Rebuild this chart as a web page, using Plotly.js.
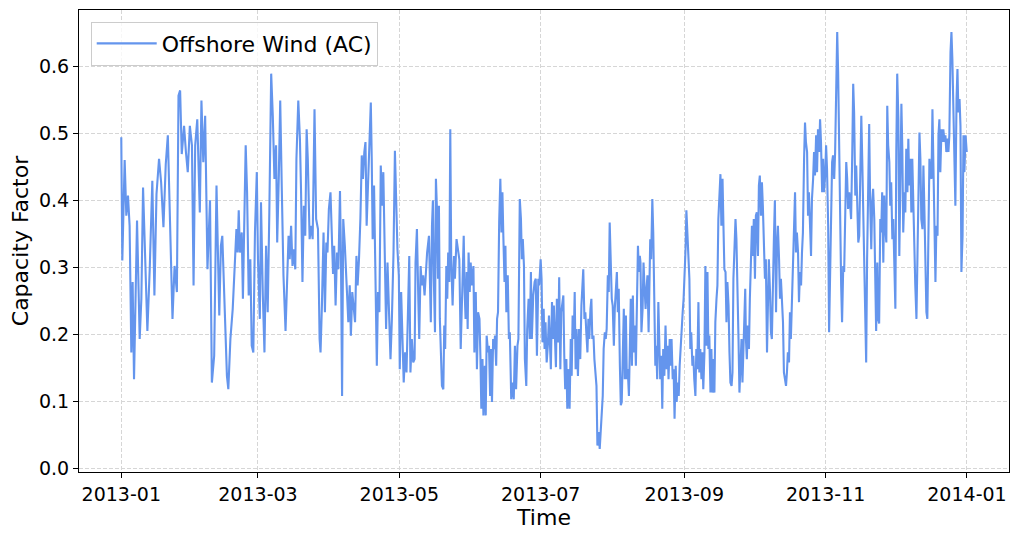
<!DOCTYPE html>
<html>
<head>
<meta charset="utf-8">
<script src="https://cdn.plot.ly/plotly-3.0.1.min.js"></script>
<style>
    html, body { margin: 0; padding: 0; background: #ffffff; }
    #capacityFactorGraphDiv { width: 1019px; height: 539px; }
</style>
</head>
<body>
<div id="capacityFactorGraphDiv"></div>
<script>
"use strict";

// offshore wind (AC) capacity factor: days since 2013-01-01 and value
const seriesName = "Offshore Wind (AC)";
const seriesStart = "2013-01-01";

const dayOffsets = [
    0, 0.45, 1.46, 2.18, 2.9, 3.6, 4.34, 4.9, 5.5, 6.8, 7.95, 8.67, 9.4, 10.26, 11.27, 12.28, 13.4, 14.3, 15.2, 16.3,
    17.2, 18.2, 19.2, 20.1, 21.1, 22.1, 23.0, 24.0, 24.7, 25.4, 26.1, 27.1, 27.9, 28.7, 29.6, 30.5, 31.2, 31.9, 32.8, 33.3,
    33.9, 34.6, 35.4, 36.2, 37.2, 38.3, 39.1,
    40.1, 41.1, 42.3, 43.0, 43.6, 44.2, 44.7, 45.6, 46.2, 47.1, 48.1, 49.1, 49.7, 50.2, 50.7, 51.2, 52.0, 52.5, 53.1, 53.7,
    54.3, 55.0, 55.7, 56.3, 57.0, 57.7, 58.5, 59.0, 59.8, 60.3, 61.1, 61.8, 62.5, 63.2, 63.9, 64.7, 65.4, 66.1, 66.8, 67.3,
    68.0, 68.6, 69.3, 70.0, 70.9, 71.6, 72.2, 72.7, 73.3, 73.9, 74.5, 75.1, 75.6, 76.4, 77.1, 77.6, 78.2, 78.8, 79.4, 80.0,
    80.5, 81.3, 82.0, 82.6, 83.0, 83.4, 84.1, 84.9, 85.6, 86.0, 86.6,
    87.3, 87.9, 88.5, 89.0, 89.6, 90.3, 90.9, 91.4, 91.9, 92.5, 93.1, 93.7, 94.4, 94.8, 95.3, 95.8, 96.5, 97.4, 98.0, 98.6,
    99.1, 99.7, 100.3, 100.9, 101.5, 102.0, 102.6, 103.2, 103.8, 104.3, 104.9, 105.4, 105.9, 106.5, 107.2, 107.7, 108.1, 108.5, 109.1, 109.7,
    110.3, 110.8, 111.4, 112.0, 112.6, 113.1, 113.7, 114.3, 114.9, 115.5, 116.2, 116.8, 117.5, 118.1, 118.6, 119.2, 119.8, 120.2, 120.8, 121.4,
    121.9, 122.5, 123.1, 123.7, 124.3, 124.8, 125.4, 126.0, 126.6, 127.0, 127.6, 128.2, 128.6, 129.2, 129.7, 130.3, 130.9, 131.5, 132.0, 132.8,
    133.2, 133.6, 134.1, 134.5, 134.9, 135.4, 135.8, 136.2, 136.7, 137.1, 137.5, 138.0, 138.4, 139.0, 139.4, 139.8, 140.3, 140.7, 141.1, 141.6,
    142.0, 142.4, 143.0, 143.6, 144.0, 144.7, 145.3, 145.9, 146.5, 146.9, 147.3, 147.8, 148.2, 148.6, 149.1, 149.5, 149.9, 150.4, 150.8, 151.4,
    152.0, 152.4, 153.0, 153.5, 154.0, 154.6, 155.0, 155.4, 155.9, 156.3, 156.9, 157.3, 157.7, 158.3, 158.7, 159.2, 159.6, 160.0, 160.5, 160.9,
    161.3, 161.8, 162.2, 162.6, 163.1, 163.6, 164.1, 164.5, 164.9, 165.4, 165.8, 166.2, 166.8, 167.3, 167.7, 168.3, 168.8, 169.4, 169.9, 170.4,
    171.0, 171.4, 172.0, 172.5, 172.9, 173.3, 173.8, 174.2, 174.8, 175.2, 175.8, 176.3, 176.8, 177.2, 177.8, 178.4,
    178.9, 179.4, 180.0, 180.4, 181.0, 181.4, 181.8, 182.3, 182.7, 183.1, 183.6, 184.1, 184.6, 185.0, 185.4, 185.9, 186.3, 186.7, 187.2, 187.6,
    188.0, 188.6, 189.0, 189.5, 189.9, 190.8, 191.2, 191.6, 192.1, 192.5, 193.1, 193.5, 194.0, 194.4, 194.8, 195.3, 195.7, 196.1, 196.5, 197.1,
    197.6, 198.1, 198.6, 199.0, 199.4, 199.9, 200.3, 200.7, 201.2, 201.6, 202.0, 202.5, 202.9, 203.3, 203.8, 204.2, 205.1, 205.5, 206.1, 206.5,
    206.9, 207.4, 207.8, 208.2, 208.7, 209.1, 209.5, 210.0, 210.4, 210.8, 211.3, 211.7, 212.1, 212.6, 213.0, 213.4, 213.9, 214.3, 214.7, 215.2,
    215.6, 216.0, 216.5, 216.9, 217.3, 217.8, 218.2, 218.6, 219.1, 219.5, 219.9, 220.4, 220.8, 221.2, 221.7, 222.1, 222.5, 223.0, 223.4, 223.8,
    224.1, 224.5, 225.0, 225.4, 225.8, 226.3, 226.7, 227.1, 227.6, 228.3, 228.7, 229.2, 229.6, 230.0, 230.5, 230.9, 231.3, 231.8, 232.2, 232.6,
    233.1, 233.5, 233.9, 234.4, 234.9, 235.4, 235.8, 236.2, 236.7, 237.1, 237.5, 238.0, 238.4, 238.8, 239.3, 239.7, 240.1, 240.6, 241.0, 241.4,
    241.9, 242.3, 242.7, 243.2, 243.6, 243.9, 244.3, 244.7, 245.2, 245.6, 246.0, 246.5, 246.9, 247.3, 247.8, 248.2, 248.6, 249.1, 249.5, 249.9,
    250.4, 250.8, 251.2, 251.7, 252.1, 252.5, 253.0, 253.4, 253.8, 254.3, 254.7, 255.1, 255.6, 256.0, 256.4, 256.9, 257.3, 257.7, 258.2, 258.6,
    259.0, 259.5, 259.9, 260.3, 260.8, 261.2, 261.6, 262.1, 262.5, 262.9, 263.4, 263.8, 264.2, 264.7, 265.1, 265.5, 266.0, 266.4, 266.8, 267.3,
    267.7, 268.1, 268.6, 269.0, 269.3,
    269.6, 270.0, 270.4, 270.9, 271.3, 271.7, 272.2, 272.6, 273.0, 273.5, 273.9, 274.3, 274.8, 275.2, 275.6, 276.1, 276.5, 276.9, 277.4, 277.8,
    278.2, 278.7, 279.1, 279.5, 280.0, 280.4, 280.8, 281.3, 281.7, 282.1, 282.6, 283.0, 283.4, 283.9, 284.3, 284.7, 285.2, 285.6, 286.0, 286.5,
    286.9, 287.3, 287.7, 288.2, 288.6, 289.0, 289.9, 290.3, 290.8, 291.2, 291.6, 292.1, 292.5, 292.9, 293.4, 293.8, 294.2, 294.7, 295.1, 295.5,
    296.0, 296.4, 296.8, 297.7, 298.1, 298.6, 299.0, 299.4, 299.9, 300.3, 300.7, 301.2, 301.6, 302.0, 302.5, 302.9, 303.3, 303.8, 304.2, 304.6,
    305.1, 305.5, 305.9, 306.4, 306.8, 307.2, 307.7, 308.1, 308.5, 309.0, 309.4, 309.8, 310.3, 310.7, 311.1, 311.6, 312.0, 312.4, 312.9, 313.3,
    313.7, 314.2, 314.7,
    315.0, 315.5, 315.9, 316.3, 316.8, 317.2, 317.6, 318.1, 318.5, 318.9, 319.4, 319.8, 320.2, 320.6, 321.1, 321.5, 321.9, 322.4, 322.8, 323.2,
    323.7, 324.1, 324.5, 325.0, 325.4, 325.8, 326.3, 326.7, 327.1, 327.6, 328.0, 328.4, 328.9, 329.3, 329.7, 330.2, 330.6, 331.0, 331.5, 331.9,
    332.3, 332.8, 333.2, 333.6, 334.1, 334.5, 334.9, 335.4, 335.8, 336.2, 336.7, 337.1, 337.5, 338.0, 338.4, 338.8, 339.3, 339.7, 340.1, 340.6,
    341.0, 341.4, 341.9, 342.3, 342.7, 343.2, 343.6, 344.0, 344.5, 344.9, 345.3, 345.8, 346.2, 346.6, 347.1, 347.5, 347.9, 348.4, 348.8, 349.2,
    349.7, 350.1, 350.5, 351.0, 351.4, 351.8, 352.3, 352.7, 353.1, 353.5, 354.0, 354.4, 354.8, 355.3, 355.7, 356.1, 356.6, 357.0, 357.4, 357.9,
    358.3, 358.7, 359.2, 359.6, 360.0, 360.5, 360.9, 361.3, 361.8, 362.2, 362.6, 363.1, 363.5, 363.9, 364.4, 364.9
];

const capacityFactor = [
    0.494, 0.31, 0.46, 0.377, 0.407, 0.362, 0.173, 0.278, 0.133, 0.37, 0.193, 0.253, 0.419, 0.322, 0.205, 0.297, 0.429, 0.258, 0.409, 0.462,
    0.427, 0.36, 0.454, 0.497, 0.362, 0.223, 0.302, 0.263, 0.556, 0.564, 0.469, 0.511, 0.472, 0.442, 0.511, 0.482, 0.273, 0.482, 0.521, 0.442,
    0.382, 0.549, 0.457, 0.526, 0.297, 0.40, 0.128,
    0.168, 0.422, 0.228, 0.332, 0.347, 0.293, 0.233, 0.138, 0.118, 0.193, 0.238, 0.312, 0.357, 0.322, 0.385, 0.322, 0.352, 0.253, 0.392, 0.482,
    0.412, 0.258, 0.312, 0.183, 0.173, 0.352, 0.442, 0.312, 0.223, 0.397, 0.258, 0.173, 0.332, 0.233, 0.382, 0.589, 0.526, 0.432, 0.482, 0.337,
    0.437, 0.549, 0.414, 0.288, 0.205, 0.273, 0.347, 0.312, 0.362, 0.302, 0.327, 0.297, 0.462, 0.549, 0.492, 0.412, 0.278, 0.392, 0.347, 0.506,
    0.462, 0.342, 0.362, 0.342, 0.457, 0.536, 0.372, 0.357, 0.193, 0.173, 0.243,
    0.352, 0.233, 0.337, 0.322, 0.387, 0.412, 0.347, 0.290, 0.332, 0.243, 0.322, 0.297, 0.414, 0.322, 0.108, 0.372, 0.332, 0.248, 0.218, 0.273,
    0.198, 0.263, 0.243, 0.218, 0.317, 0.273, 0.312, 0.372, 0.467, 0.432, 0.472, 0.487, 0.362, 0.422, 0.472, 0.546, 0.462, 0.342, 0.422, 0.297,
    0.153, 0.263, 0.233, 0.452, 0.392, 0.442, 0.293, 0.208, 0.307, 0.243, 0.163, 0.223, 0.322, 0.474, 0.382, 0.327, 0.288, 0.148, 0.263, 0.193,
    0.128, 0.173, 0.143, 0.228, 0.317, 0.143, 0.193, 0.158, 0.163, 0.307, 0.357, 0.253, 0.193, 0.302, 0.273, 0.288, 0.258, 0.293, 0.322, 0.347,
    0.243, 0.218, 0.362, 0.40, 0.283, 0.203, 0.432, 0.392, 0.283, 0.392, 0.223, 0.168, 0.123, 0.118, 0.213, 0.178, 0.302, 0.253, 0.322, 0.278,
    0.506, 0.312, 0.243, 0.317, 0.283, 0.342, 0.322, 0.312, 0.178, 0.238, 0.273, 0.347, 0.263, 0.223, 0.293, 0.208, 0.322, 0.263, 0.307, 0.273,
    0.302, 0.173, 0.263, 0.148, 0.233, 0.223, 0.168, 0.089, 0.163, 0.079, 0.153, 0.079, 0.198, 0.173, 0.183, 0.108, 0.178, 0.099, 0.193, 0.178,
    0.198, 0.153, 0.223, 0.233, 0.367, 0.432, 0.352, 0.412, 0.347, 0.278, 0.332, 0.233, 0.288, 0.193, 0.203, 0.103, 0.128, 0.103, 0.183, 0.118,
    0.183, 0.193, 0.402, 0.372, 0.312, 0.342, 0.302, 0.163, 0.123, 0.208, 0.253, 0.193, 0.293, 0.193, 0.258, 0.278,
    0.283, 0.168, 0.283, 0.273, 0.312, 0.283, 0.188, 0.238, 0.178, 0.218, 0.158, 0.183, 0.228, 0.178, 0.148, 0.248, 0.193, 0.243, 0.183, 0.151,
    0.253, 0.188, 0.285, 0.148, 0.233, 0.258, 0.168, 0.118, 0.163, 0.089, 0.148, 0.089, 0.193, 0.138, 0.228, 0.193, 0.263, 0.148, 0.208, 0.138,
    0.208, 0.163, 0.243, 0.283, 0.297, 0.223, 0.233, 0.203, 0.173, 0.223, 0.193, 0.238, 0.253, 0.193, 0.198, 0.163, 0.123, 0.034, 0.054, 0.029,
    0.049, 0.084, 0.108, 0.178, 0.203, 0.193, 0.208, 0.288, 0.263, 0.367, 0.288, 0.253, 0.243, 0.183, 0.238, 0.273, 0.293, 0.233, 0.268, 0.153,
    0.094, 0.099, 0.183, 0.238, 0.133, 0.228, 0.133, 0.148, 0.108, 0.208, 0.253, 0.153, 0.258, 0.173, 0.213, 0.153, 0.253, 0.332, 0.293, 0.317,
    0.307, 0.203, 0.238, 0.307, 0.273, 0.238, 0.268, 0.288, 0.203, 0.342, 0.312, 0.402, 0.352, 0.233, 0.153, 0.183, 0.133, 0.248, 0.153, 0.133,
    0.168, 0.089, 0.178, 0.138, 0.213, 0.148, 0.183, 0.133, 0.193, 0.153, 0.193, 0.133, 0.148, 0.074, 0.153, 0.099, 0.128, 0.108, 0.153, 0.183,
    0.208, 0.233, 0.253, 0.293, 0.332, 0.385, 0.352, 0.327, 0.283, 0.178, 0.203, 0.153, 0.168, 0.133, 0.108, 0.178, 0.148, 0.248, 0.143, 0.178,
    0.133, 0.173, 0.118, 0.173, 0.302, 0.183, 0.293, 0.178, 0.198, 0.113, 0.178, 0.113, 0.163, 0.113, 0.218, 0.253, 0.273, 0.372, 0.422, 0.439,
    0.362, 0.432, 0.362, 0.297, 0.293, 0.218, 0.278, 0.243, 0.173, 0.128, 0.123, 0.143, 0.283, 0.347, 0.372, 0.342, 0.273, 0.193, 0.113, 0.163,
    0.193, 0.128, 0.183, 0.213, 0.268,
    0.193, 0.163, 0.213, 0.178, 0.253, 0.293, 0.362, 0.317, 0.372, 0.283, 0.377, 0.382, 0.317, 0.422, 0.437, 0.377, 0.427, 0.392, 0.317, 0.283,
    0.312, 0.173, 0.243, 0.312, 0.263, 0.203, 0.193, 0.307, 0.347, 0.40, 0.233, 0.332, 0.362, 0.312, 0.253, 0.283, 0.233, 0.218, 0.143, 0.133,
    0.123, 0.143, 0.173, 0.158, 0.233, 0.193, 0.322, 0.372, 0.412, 0.322, 0.352, 0.322, 0.248, 0.293, 0.273, 0.322, 0.352, 0.462, 0.516, 0.487,
    0.472, 0.377, 0.412, 0.317, 0.402, 0.432, 0.472, 0.437, 0.497, 0.442, 0.506, 0.472, 0.521, 0.487, 0.412, 0.462, 0.412, 0.437, 0.482, 0.447,
    0.362, 0.203, 0.293, 0.422, 0.457, 0.467, 0.432, 0.472, 0.546, 0.651, 0.591, 0.492, 0.327, 0.273, 0.218, 0.302, 0.293, 0.352, 0.457, 0.432,
    0.387, 0.412, 0.372,
    0.372, 0.472, 0.574, 0.531, 0.407, 0.452, 0.402, 0.337, 0.347, 0.437, 0.526, 0.462, 0.392, 0.297, 0.203, 0.158, 0.312, 0.442, 0.514, 0.402,
    0.327, 0.397, 0.417, 0.372, 0.238, 0.205, 0.307, 0.223, 0.216, 0.372, 0.352, 0.412, 0.307, 0.407, 0.362, 0.337, 0.541, 0.482, 0.457, 0.392,
    0.427, 0.342, 0.372, 0.297, 0.238, 0.472, 0.589, 0.521, 0.317, 0.412, 0.544, 0.477, 0.352, 0.412, 0.382, 0.477, 0.412, 0.492, 0.422, 0.462,
    0.382, 0.462, 0.377, 0.347, 0.273, 0.223, 0.322, 0.382, 0.501, 0.462, 0.372, 0.357, 0.452, 0.392, 0.258, 0.233, 0.223, 0.422, 0.462, 0.437,
    0.432, 0.536, 0.472, 0.372, 0.278, 0.362, 0.347, 0.497, 0.521, 0.442, 0.506, 0.487, 0.506, 0.487, 0.497, 0.472, 0.492, 0.472, 0.497, 0.621,
    0.651, 0.611, 0.541, 0.462, 0.392, 0.551, 0.596, 0.531, 0.551, 0.511, 0.293, 0.347, 0.497, 0.442, 0.497, 0.472
];

const yTickValues = [0.0, 0.1, 0.2, 0.3, 0.4, 0.5, 0.6];

function dayToTimestamp(dayOffset) {
    const date = new Date(Date.parse(seriesStart + "T00:00:00Z") + dayOffset * 86400000);
    return `${date.getUTCFullYear()}-${(date.getUTCMonth() + 1).toString().padStart(2, '0')}-${date.getUTCDate().toString().padStart(2, '0')} ${date.getUTCHours().toString().padStart(2, '0')}:${date.getUTCMinutes().toString().padStart(2, '0')}`;
}

const pointCount = Math.min(dayOffsets.length, capacityFactor.length);
if (dayOffsets.length !== capacityFactor.length) {
    console.log("length mismatch", dayOffsets.length, capacityFactor.length);
}
var timeArray = [];
var valueArray = [];
for (let i = 0; i < pointCount; i++) {
    timeArray.push(dayToTimestamp(dayOffsets[i]));
    valueArray.push(capacityFactor[i]);
}

// matplotlib style 5% padding around the data span
const firstDay = dayOffsets[0];
const lastDay = dayOffsets[pointCount - 1];
const daySpan = lastDay - firstDay;
const xRange = [dayToTimestamp(firstDay - 0.05 * daySpan), dayToTimestamp(lastDay + 0.05 * daySpan)];

var capacityFactorGraph = [
    {
        x: timeArray,
        y: valueArray,
        type: 'scatter',
        mode: 'lines',
        name: seriesName,
        line: { color: '#6495ED', width: 2.1 }
    }
];

var capacityFactorLayout = {
    width: 1019,
    height: 539,
    margin: { l: 79, r: 10, t: 10, b: 67 },
    paper_bgcolor: '#ffffff',
    plot_bgcolor: '#ffffff',
    font: { family: 'DejaVu Sans', size: 19, color: '#000000' },
    showlegend: true,
    legend: {
        x: 0.0126,
        y: 0.975,
        xanchor: 'left',
        yanchor: 'top',
        itemwidth: 60,
        bgcolor: 'rgba(255,255,255,0.8)',
        bordercolor: '#cccccc',
        borderwidth: 1,
        font: { family: 'DejaVu Sans', size: 22, color: '#000000' }
    },
    xaxis: {
        type: 'date',
        range: xRange,
        tick0: seriesStart,
        dtick: 'M2',
        tickformat: '%Y-%m',
        ticks: 'outside',
        ticklen: 5,
        tickwidth: 1,
        tickcolor: '#000000',
        showline: true,
        linecolor: '#000000',
        linewidth: 1,
        mirror: true,
        showgrid: true,
        gridcolor: '#d6d6d6',
        gridwidth: 1,
        griddash: '4px,2px',
        zeroline: false,
        tickfont: { family: 'DejaVu Sans', size: 19, color: '#000000' },
        title: { text: 'Time', font: { family: 'DejaVu Sans', size: 22, color: '#000000' }, standoff: 4 }
    },
    yaxis: {
        range: [-0.0055, 0.684],
        tickvals: yTickValues,
        tickformat: '.1f',
        ticks: 'outside',
        ticklen: 5,
        tickwidth: 1,
        tickcolor: '#000000',
        showline: true,
        linecolor: '#000000',
        linewidth: 1,
        mirror: true,
        showgrid: true,
        gridcolor: '#d6d6d6',
        gridwidth: 1,
        griddash: '4px,2px',
        zeroline: false,
        tickfont: { family: 'DejaVu Sans', size: 19, color: '#000000' },
        title: { text: 'Capacity Factor', font: { family: 'DejaVu Sans', size: 22, color: '#000000' }, standoff: 4 }
    }
};

Plotly.newPlot('capacityFactorGraphDiv', capacityFactorGraph, capacityFactorLayout, { displayModeBar: false, staticPlot: true });
</script>
</body>
</html>
